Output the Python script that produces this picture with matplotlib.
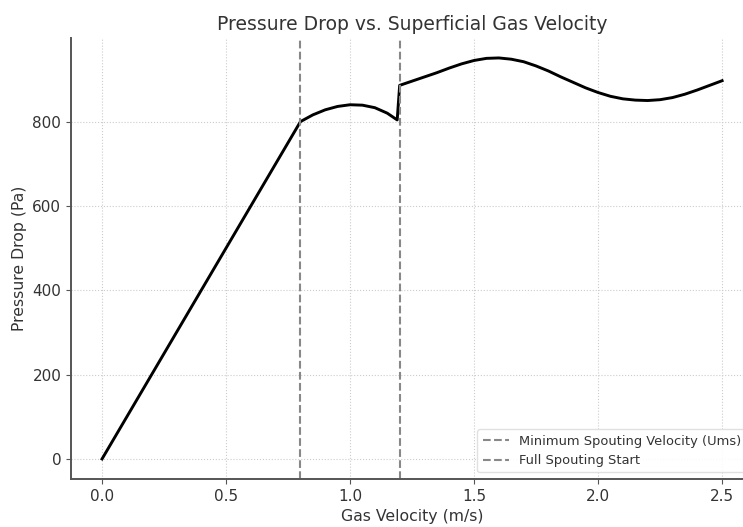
import numpy as np
import matplotlib
matplotlib.use("Agg")
from matplotlib import pyplot as plt

# Gas velocity (m/s) and pressure drop (Pa)
velocity = [0.0, 0.2, 0.4, 0.6, 0.8,
            0.85, 0.9, 0.95, 1.0, 1.05, 1.1, 1.15, 1.19,
            1.2, 1.25, 1.3, 1.35, 1.4, 1.45, 1.5, 1.55, 1.6, 1.65, 1.7,
            1.75, 1.8, 1.85, 1.9, 1.95, 2.0, 2.05, 2.1, 2.15, 2.2, 2.25,
            2.3, 2.35, 2.4, 2.45, 2.5]
pressure = [0, 200, 400, 600, 800,
            816, 828, 836, 840, 839, 833, 820, 804,
            886, 896, 906, 916, 927, 937, 945, 950, 951, 948, 942,
            932, 920, 906, 893, 880, 869, 860, 854, 851, 850, 852,
            857, 865, 875, 886, 897]
u_ms = 0.8
u_full = 1.2

fig = plt.figure(figsize=(7.43, 5.27), dpi=100)
ax = fig.add_axes([0.0956, 0.0911, 0.918, 0.837])

ax.plot(velocity, pressure, color="black", linewidth=2.1)
ax.axvline(u_ms, color="#888888", linestyle="--", linewidth=1.5,
           label="Minimum Spouting Velocity (Ums)")
ax.axvline(u_full, color="#888888", linestyle="--", linewidth=1.5,
           label="Full Spouting Start")

ax.set_title("Pressure Drop vs. Superficial Gas Velocity", fontsize=13.5, color="#333333")
ax.set_xlabel("Gas Velocity (m/s)", fontsize=11.3, color="#333333")
ax.set_ylabel("Pressure Drop (Pa)", fontsize=11.3, color="#333333")

ax.set_xticks([0.0, 0.5, 1.0, 1.5, 2.0, 2.5])
ax.set_yticks([0, 200, 400, 600, 800])
ax.grid(True, linestyle=":", color="#cccccc", linewidth=0.8)
ax.tick_params(colors="#333333", labelsize=11)
ax.tick_params(axis="both", color="#555555")

for side in ["top", "right"]:
    ax.spines[side].set_visible(False)
for side in ["left", "bottom"]:
    ax.spines[side].set_color("#555555")
    ax.spines[side].set_linewidth(1.4)

leg = ax.legend(loc="lower right", fontsize=9.4, framealpha=0.9,
                handlelength=2.0, labelcolor="#333333")
leg.get_frame().set_edgecolor("#dddddd")

fig.savefig("out.png", dpi=100)
